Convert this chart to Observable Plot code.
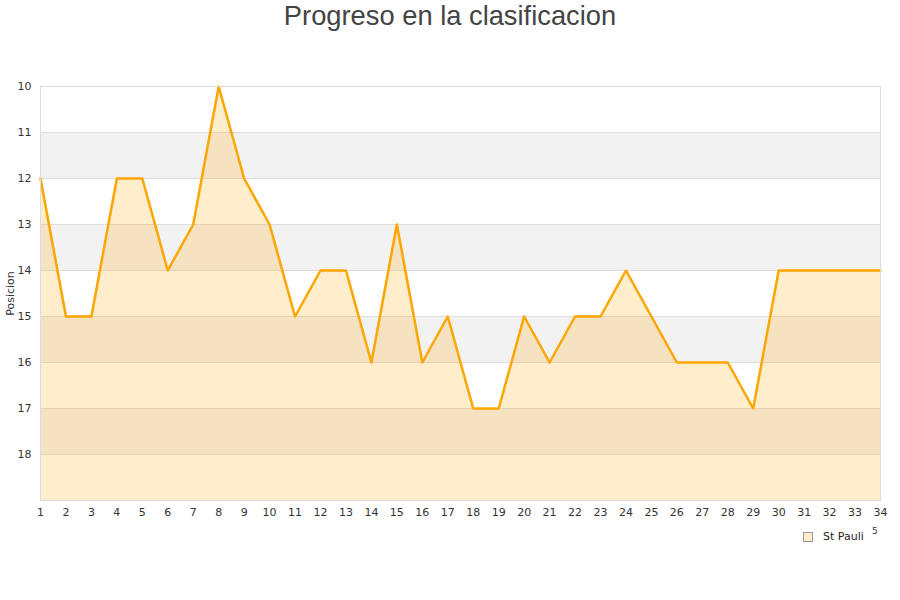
<!DOCTYPE html>
<html>
<head>
<meta charset="utf-8">
<script src="https://cdn.jsdelivr.net/npm/d3@7"></script>
<script src="https://cdn.jsdelivr.net/npm/@observablehq/plot@0.6"></script>
<style>
  body { margin: 0; background: #fff; }
  #wrap { position: relative; width: 900px; height: 600px; font-family: "DejaVu Sans", sans-serif; }
  #title { position: absolute; top: 0; left: 0; width: 900px; text-align: center; font-family: "Liberation Sans", Arial, sans-serif; font-size: 27.3px; color: #444; line-height: 32px; }
  #legend { position: absolute; left: 803px; top: 530px; font-size: 11px; color: #222; display: flex; align-items: center; }
  #legend span.sw { display: inline-block; width: 8px; height: 8px; border: 1px solid #999; background: #ffedcc; margin-right: 10px; }
  #stray { position: absolute; left: 872px; top: 526px; font-size: 9px; color: #333; }
  #chart { position: absolute; top: 0; left: 0; }
</style>
</head>
<body>
<div id="wrap">
  <div id="chart"></div>
  <div id="title">Progreso en la clasificacion</div>
  <div id="legend"><span class="sw"></span>St Pauli</div>
  <div id="stray">5</div>
</div>
<script>
// jornadas y posicion de St Pauli
const jornadas = d3.range(1, 35)
const posiciones = [12, 15, 15, 12, 12, 14, 13, 10, 12, 13, 15, 14, 14, 16, 13, 16, 15, 17, 17, 15,
  16, 15, 15, 14, 15, 16, 16, 16, 17, 14, 14, 14, 14, 14]
const yTicks = [10, 11, 12, 13, 14, 15, 16, 17, 18]
const bandas = [11, 13, 15, 17] // franjas grises

const data = jornadas.map((j, i) => ({jornada: j, pos: posiciones[i]}))

const chart = Plot.plot({
  width: 900,
  height: 600,
  marginLeft: 40,
  marginRight: 20,
  marginTop: 86,
  marginBottom: 100,
  style: {
    fontFamily: "DejaVu Sans, sans-serif",
    fontSize: "11px",
    color: "#333",
    background: "transparent"
  },
  x: {domain: [1, 34], ticks: jornadas, tickFormat: d => d, tickSize: 0, tickPadding: 8, label: null},
  y: {domain: [10, 19], reverse: true, ticks: yTicks, tickSize: 0, tickPadding: 9, label: null},
  marks: [
    Plot.rect(bandas, {x1: 1, x2: 34, y1: d => d, y2: d => d + 1, fill: "#f2f2f2"}),
    Plot.ruleY(yTicks, {stroke: "#dddddd"}),
    Plot.areaY(data, {x: "jornada", y1: 19, y2: "pos", fill: "orange", fillOpacity: 0.2}),
    Plot.line(data, {x: "jornada", y: "pos", stroke: "orange", strokeWidth: 2.5}),
    Plot.frame({stroke: "#dddddd"}),
    // etiqueta del eje y
    Plot.text(["Posicion"], {x: 1, y: 14.5, text: d => d, rotate: -90, dx: -30, fill: "#333"})
  ]
})
d3.select("#chart").append(() => chart)
</script>
</body>
</html>
